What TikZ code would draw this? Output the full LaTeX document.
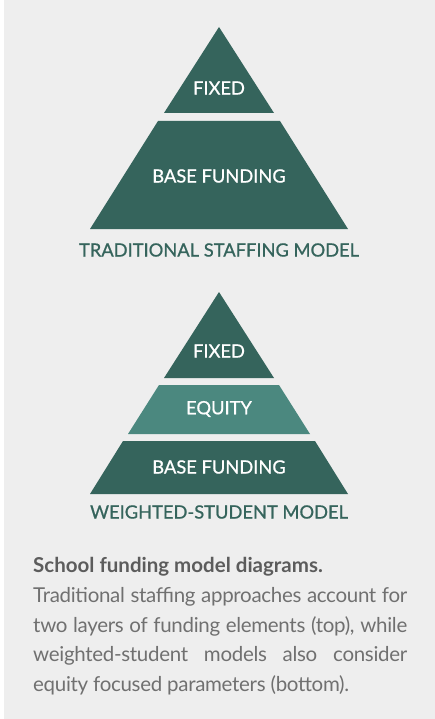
\documentclass[tikz,border=0pt]{standalone}
\usepackage{fontspec}
\setmainfont{Lato}
\newfontfamily\medfont[FakeBold=0.8]{Lato}
\newfontfamily\capfont[LetterSpace=-1.5]{Lato}
\definecolor{dgreen}{HTML}{35645C}
\definecolor{lgreen}{HTML}{4B887F}
\definecolor{bgray}{HTML}{EEEEEE}
\definecolor{capbold}{HTML}{5C5C5C}
\definecolor{captext}{HTML}{707070}
\tikzset{
  layer/.style={fill=dgreen},
  eqlayer/.style={fill=lgreen},
  intext/.style={text=white, font=\medfont\fontsize{18.3}{20}\selectfont, inner sep=0pt},
  modellabel/.style={text=dgreen, font=\medfont\fontsize{18.3}{20}\selectfont, inner sep=0pt},
  capline/.style={anchor=base west, inner sep=0pt, text=captext, font=\capfont\fontsize{20.5}{30}\selectfont},
}
\begin{document}
\begin{tikzpicture}[x=1pt,y=-1pt]
\useasboundingbox (0,0) rectangle (435,719);
\fill[white] (0,0) rectangle (435,719);
\fill[bgray] (4,0) rectangle (435,719);
% Traditional
\fill[layer] (219,27) -- (274,113) -- (164,113) -- cycle;
\fill[layer] (158,121) -- (280,121) -- (348,229) -- (90,229) -- cycle;
\node[intext] (t1) at (219,88) {FIXED};
\node[intext] (t2) at (219,176) {BASE FUNDING};
\node[modellabel] (tl) at (219,250) {TRADITIONAL STAFFING MODEL};
% Weighted
\fill[layer] (219,292) -- (274,378) -- (164,378) -- cycle;
\fill[eqlayer] (159,385) -- (279,385) -- (310,434) -- (128,434) -- cycle;
\fill[layer] (123,441) -- (315,441) -- (348,494) -- (90,494) -- cycle;
\node[intext] (w1) at (219,351) {FIXED};
\node[intext] (w2) at (219,409) {EQUITY};
\node[intext] (w3) at (219,467) {BASE FUNDING};
\node[modellabel] (wl) at (219,512) {WEIGHTED-STUDENT MODEL};
% Caption
\node[capline, text=capbold, font=\bfseries\fontsize{20.5}{30}\selectfont] (c0) at (33,572) {School funding model diagrams.};
\node[capline] (c1) at (33,602) {\makebox[374pt][s]{Traditional staffing approaches account for}};
\node[capline] (c2) at (33,632) {\makebox[374pt][s]{two layers of funding elements (top), while}};
\node[capline] (c3) at (33,661) {\makebox[374pt][s]{weighted-student models also consider}};
\node[capline] (c4) at (33,691) {equity focused parameters (bottom).};
\end{tikzpicture}
\end{document}
